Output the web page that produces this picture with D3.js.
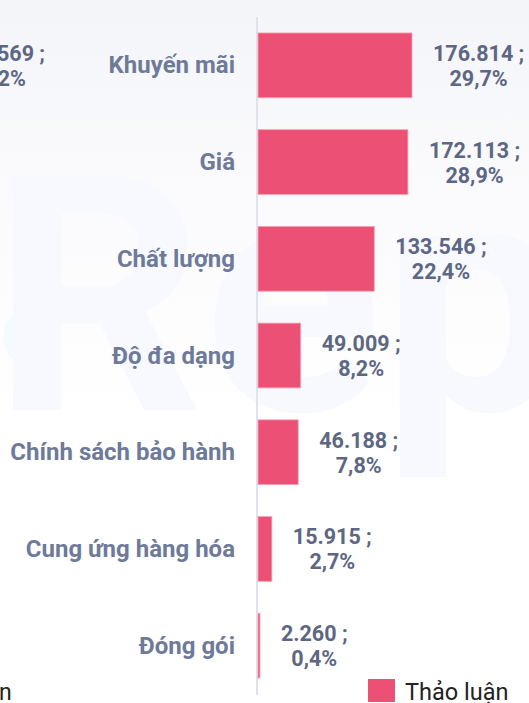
<!DOCTYPE html>
<html>
<head>
<meta charset="utf-8">
<script src="https://cdn.jsdelivr.net/npm/d3@7"></script>
<style>
  html, body { margin: 0; padding: 0; background: #fff; overflow: hidden; }
  svg { display: block; font-family: Roboto, "Noto Sans", sans-serif; }
</style>
</head>
<body>
<div id="chart"></div>
<script>
var width = 529,
    height = 703;

// chart data
var categories = ["Khuyến mãi", "Giá", "Chất lượng", "Độ đa dạng", "Chính sách bảo hành", "Cung ứng hàng hóa", "Đóng gói"];
var values = [176814, 172113, 133546, 49009, 46188, 15915, 2260];
var percents = [29.7, 28.9, 22.4, 8.2, 7.8, 2.7, 0.4];
var seriesName = "Thảo luận";

var barColor = "#ec5175",
    labelColor = "#6e7a9a",
    valueColor = "#5d6784";

var vn = d3.formatLocale({decimal: ",", thousands: ".", grouping: [3], currency: ["", ""]});
var fmtVal = vn.format(",d"),
    fmtPct = vn.format(".1f");

var svg = d3.select('#chart').append('svg')
    .attr('width', width)
    .attr('height', height);

// background: soft gradient + faint watermark
var defs = svg.append('defs');
var grad = defs.append('linearGradient').attr('id', 'bg')
    .attr('x1', 0).attr('y1', 0).attr('x2', 0).attr('y2', 1);
grad.append('stop').attr('offset', '0%').attr('stop-color', '#f4f5f9');
grad.append('stop').attr('offset', '30%').attr('stop-color', '#fbfbfd');
grad.append('stop').attr('offset', '60%').attr('stop-color', '#ffffff');
svg.append('rect').attr('width', width).attr('height', height).attr('fill', 'url(#bg)');

var wm = svg.append('g');
wm.append('circle').attr('cx', 32).attr('cy', 337).attr('r', 29).attr('fill', '#f3fbfd');
wm.append('text')
    .attr('x', -8).attr('y', 410)
    .attr('font-size', 330)
    .attr('font-weight', 700)
    .attr('fill', '#f7f9fe')
    .text("Repu");

// cut-off pieces of the neighbouring chart
svg.append('text').attr('x', 45).attr('y', 61).attr('text-anchor', 'end')
    .attr('font-size', 21.5).attr('font-weight', 700).attr('fill', valueColor).text("569 ;");
svg.append('text').attr('x', 26).attr('y', 86).attr('text-anchor', 'end')
    .attr('font-size', 21.5).attr('font-weight', 700).attr('fill', valueColor).text("2%");
svg.append('text').attr('x', -1).attr('y', 700)
    .attr('font-size', 23).attr('fill', '#222').text("n");

// scales
var x0 = 258;
var scaleX = d3.scaleLinear().domain([0, d3.max(values)]).range([0, 154]);
var scaleY = d3.scaleBand().domain(categories).range([17, 694])
    .paddingInner(0.33).paddingOuter(0.165);

var data = categories.map(function(c, i) {
    return {cat: c, value: values[i], pct: percents[i]};
});

// axis line
svg.append('line')
    .attr('x1', x0 - 1).attr('x2', x0 - 1)
    .attr('y1', 17).attr('y2', 695)
    .attr('stroke', '#e0e3eb').attr('stroke-width', 2);

// bars
svg.selectAll('.bar').data(data).enter()
  .append('rect')
    .attr('class', 'bar')
    .attr('x', x0)
    .attr('y', function(d) { return scaleY(d.cat); })
    .attr('width', function(d) { return Math.max(1.5, scaleX(d.value)); })
    .attr('height', scaleY.bandwidth())
    .attr('fill', barColor)
    .attr('stroke', '#f7a3b6')
    .attr('stroke-width', 0.8);

// category labels
svg.selectAll('.cat').data(data).enter()
  .append('text')
    .attr('class', 'cat')
    .attr('x', 235)
    .attr('y', function(d) { return scaleY(d.cat) + scaleY.bandwidth() / 2 + 8; })
    .attr('text-anchor', 'end')
    .attr('font-size', 24)
    .attr('font-weight', 700)
    .attr('fill', labelColor)
    .text(function(d) { return d.cat; });

// value labels, two centred lines
var vl = svg.selectAll('.val').data(data).enter()
  .append('g')
    .attr('class', 'val')
    .attr('transform', function(d) {
        var cy = scaleY(d.cat) + scaleY.bandwidth() / 2;
        return "translate(" + (x0 + scaleX(d.value) + 21) + "," + cy + ")";
    });
vl.append('text')
    .attr('class', 'l1')
    .attr('y', -4.5)
    .attr('font-size', 21.5)
    .attr('font-weight', 700)
    .attr('fill', valueColor)
    .text(function(d) { return fmtVal(d.value) + " ;"; });
vl.each(function() {
    var g = d3.select(this);
    var w = g.select('.l1').node().getComputedTextLength();
    g.append('text')
        .attr('x', w / 2)
        .attr('y', 20.5)
        .attr('text-anchor', 'middle')
        .attr('font-size', 21.5)
        .attr('font-weight', 700)
        .attr('fill', valueColor)
        .text(function(d) { return fmtPct(d.pct) + "%"; });
});

// legend
var legend = svg.append('g').attr('transform', 'translate(368,679)');
legend.append('rect').attr('width', 27).attr('height', 23).attr('fill', barColor);
legend.append('text').attr('x', 37).attr('y', 21)
    .attr('font-size', 23.5).attr('fill', '#222')
    .text(seriesName);
</script>
</body>
</html>
